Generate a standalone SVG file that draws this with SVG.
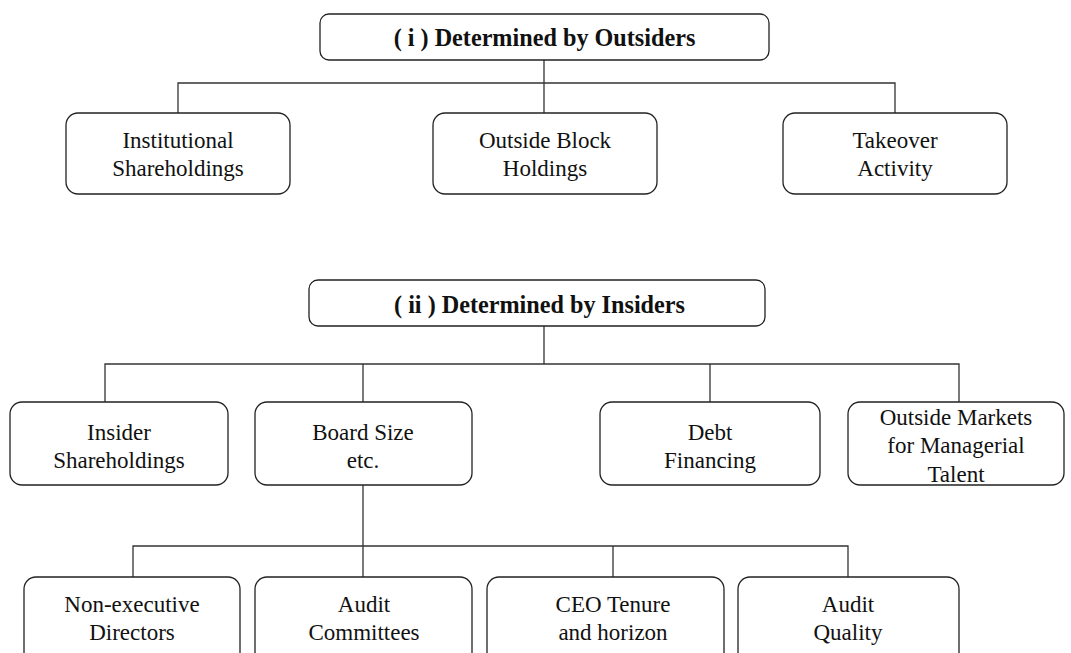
<svg xmlns="http://www.w3.org/2000/svg" width="1071" height="653" viewBox="0 0 1071 653">
<style>
.box{fill:#fff;stroke:#222;stroke-width:1.3}
.t{font-family:"Liberation Serif","Times New Roman",serif;font-size:23px;fill:#111;text-anchor:middle}
.b{font-weight:bold;font-size:24.2px}
.c{fill:none;stroke:#333;stroke-width:1.3}
</style>
<rect width="1071" height="653" fill="#fff"/>
<g id="connectors">
<path class="c" d="M544 60V113M178 113V83H895V113"/>
<path class="c" d="M544 326V364M105 402V364H959V402M363 364V402M710 364V402"/>
<path class="c" d="M363 485V577M133 577V546H848V577M613 546V577"/>
</g>
<g id="n-outsiders"><rect class="box" x="320" y="14" width="449" height="46" rx="9"/><text class="t b" x="544.5" y="46">( i ) Determined by Outsiders</text></g>
<g id="n-institutional"><rect class="box" x="66" y="113" width="224" height="81" rx="12"/><text class="t" x="178" y="148">Institutional</text><text class="t" x="178" y="176">Shareholdings</text></g>
<g id="n-block"><rect class="box" x="433" y="113" width="224" height="81" rx="12"/><text class="t" x="545" y="148">Outside Block</text><text class="t" x="545" y="176">Holdings</text></g>
<g id="n-takeover"><rect class="box" x="783" y="113" width="224" height="81" rx="12"/><text class="t" x="895" y="148">Takeover</text><text class="t" x="895" y="176">Activity</text></g>
<g id="n-insiders"><rect class="box" x="309" y="280" width="456" height="46" rx="9"/><text class="t b" x="539.5" y="313">( ii ) Determined by Insiders</text></g>
<g id="n-insider-sh"><rect class="box" x="10" y="402" width="218" height="83" rx="12"/><text class="t" x="119" y="440">Insider</text><text class="t" x="119" y="468">Shareholdings</text></g>
<g id="n-board"><rect class="box" x="255" y="402" width="217" height="83" rx="12"/><text class="t" x="363" y="440">Board Size</text><text class="t" x="363" y="468">etc.</text></g>
<g id="n-debt"><rect class="box" x="600" y="402" width="220" height="83" rx="12"/><text class="t" x="710" y="440">Debt</text><text class="t" x="710" y="468">Financing</text></g>
<g id="n-markets"><rect class="box" x="848" y="402" width="216" height="83" rx="12"/><text class="t" x="956" y="425">Outside Markets</text><text class="t" x="956" y="453">for Managerial</text><text class="t" x="956" y="482">Talent</text></g>
<g id="n-nonexec"><rect class="box" x="24" y="577" width="216" height="90" rx="12"/><text class="t" x="132" y="612">Non-executive</text><text class="t" x="132" y="640">Directors</text></g>
<g id="n-auditcom"><rect class="box" x="255" y="577" width="217" height="90" rx="12"/><text class="t" x="364" y="612">Audit</text><text class="t" x="364" y="640">Committees</text></g>
<g id="n-ceo"><rect class="box" x="487" y="577" width="237" height="90" rx="12"/><text class="t" x="613" y="612">CEO Tenure</text><text class="t" x="613" y="640">and horizon</text></g>
<g id="n-auditq"><rect class="box" x="738" y="577" width="221" height="90" rx="12"/><text class="t" x="848" y="612">Audit</text><text class="t" x="848" y="640">Quality</text></g>
</svg>
